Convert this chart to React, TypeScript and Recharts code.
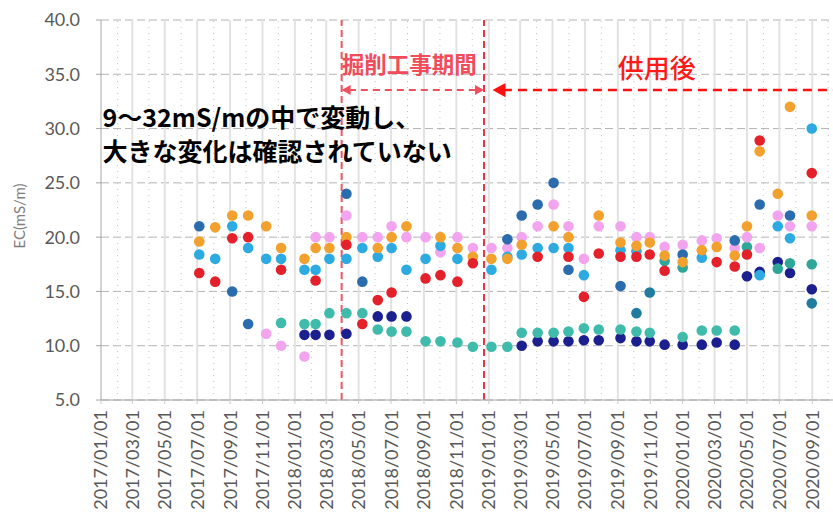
import React from 'react';
import {
  ScatterChart,
  Scatter,
  XAxis,
  YAxis,
  CartesianGrid,
  ReferenceLine,
  ReferenceDot,
  Label,
} from 'recharts';

// sampling dates (one column of dots each)
const sampleDates = [
  '2017-07-05', '2017-08-04', '2017-09-05', '2017-10-05', '2017-11-08',
  '2017-12-06', '2018-01-19', '2018-02-09', '2018-03-07', '2018-04-08',
  '2018-05-08', '2018-06-06', '2018-07-02', '2018-07-30', '2018-09-04',
  '2018-10-02', '2018-11-03', '2018-12-02', '2019-01-06', '2019-02-05',
  '2019-03-04', '2019-04-03', '2019-05-03', '2019-05-31', '2019-06-29',
  '2019-07-27', '2019-09-06', '2019-10-06', '2019-10-31', '2019-11-28',
  '2020-01-01', '2020-02-06', '2020-03-05', '2020-04-08', '2020-05-01',
  '2020-05-25', '2020-06-28', '2020-07-21', '2020-08-31',
];

const tickDates = [
  '2017/01/01', '2017/03/01', '2017/05/01', '2017/07/01', '2017/09/01', '2017/11/01',
  '2018/01/01', '2018/03/01', '2018/05/01', '2018/07/01', '2018/09/01', '2018/11/01',
  '2019/01/01', '2019/03/01', '2019/05/01', '2019/07/01', '2019/09/01', '2019/11/01',
  '2020/01/01', '2020/03/01', '2020/05/01', '2020/07/01', '2020/09/01',
];

const minorDates = [
  '2017/02/01', '2017/04/01', '2017/06/01', '2017/08/01', '2017/10/01', '2017/12/01',
  '2018/02/01', '2018/04/01', '2018/06/01', '2018/08/01', '2018/10/01', '2018/12/01',
  '2019/02/01', '2019/04/01', '2019/06/01', '2019/08/01', '2019/10/01', '2019/12/01',
  '2020/02/01', '2020/04/01', '2020/06/01', '2020/08/01', '2020/10/01',
];

const yTicks = [5, 10, 15, 20, 25, 30, 35, 40];

// EC values (mS/m), aligned with sampleDates
const steelVals = [
  21.0, null, 15.0, 12.0, null, null, null, null, null, 24.0,
  15.9, null, null, null, null, null, null, null, null, 19.8,
  22.0, 23.0, 25.0, 17.0, null, null, 15.5, null, null, null,
  18.4, null, null, 19.7, null, 23.0, null, 22.0, null,
];
const orangeVals = [
  19.6, 20.9, 22.0, 22.0, 21.0, 19.0, 18.0, 19.0, 19.0, 20.0,
  null, 19.0, 20.0, 21.0, null, 20.0, 19.0, 18.2, 18.0, 18.0,
  19.3, null, 21.0, 20.0, null, 22.0, 19.5, 19.2, 19.5, 18.3,
  17.7, 18.8, 19.1, 18.3, 21.0, 27.9, 24.0, 32.0, 22.0,
];
const skyVals = [
  18.4, 18.0, 21.0, 19.0, 18.0, 18.0, 17.0, 17.0, 18.0, 18.0,
  19.0, 18.2, 19.0, 17.0, 18.0, 19.2, 18.0, null, 17.0, 18.2,
  18.4, 19.0, 19.0, 19.0, 16.5, null, 18.8, 18.7, null, null,
  null, 18.1, null, null, null, 16.5, 21.0, 19.9, 30.0,
];
const redVals = [
  16.7, 15.9, 19.9, 20.0, null, 17.0, null, 16.0, null, 19.3,
  12.0, 14.2, 14.9, null, 16.2, 16.5, 15.9, 17.6, null, null,
  null, 18.2, null, 18.2, 14.5, 18.5, 18.2, 18.2, 18.4, 16.9,
  null, null, 17.7, 17.3, 18.4, 28.9, null, null, 25.9,
];
const pinkVals = [
  null, null, null, null, 11.1, 10.0, 9.0, 20.0, 20.0, 22.0,
  20.0, 20.0, 21.0, 20.0, 20.0, 18.6, 20.0, 19.0, 19.0, 19.0,
  20.0, 21.0, 23.0, 21.0, 18.0, 21.0, 21.0, 20.0, 20.0, 19.1,
  19.3, 19.7, 19.9, 19.0, 20.0, 19.0, 22.0, 21.0, 21.0,
];
const tealVals = [
  null, null, null, null, null, 12.1, 12.0, 12.0, 13.0, 13.0,
  13.0, 11.5, 11.3, 11.3, 10.4, 10.4, 10.3, 9.9, 9.9, 9.9,
  11.2, 11.2, 11.2, 11.3, 11.6, 11.5, 11.5, 11.3, 11.2, null,
  10.8, 11.4, 11.4, 11.4, null, null, null, null, null,
];
const navyVals = [
  null, null, null, null, null, null, 11.0, 11.0, 11.0, 11.1,
  null, 12.7, 12.7, 12.7, null, null, null, null, null, null,
  10.0, 10.4, 10.4, 10.4, 10.5, 10.5, 10.7, 10.4, 10.4, 10.1,
  10.1, 10.1, 10.3, 10.1, 16.4, 16.8, 17.7, 16.7, 15.2,
];
const seaVals = [
  null, null, null, null, null, null, null, null, null, null,
  null, null, null, null, null, null, null, null, null, null,
  null, null, null, null, null, null, null, null, null, 17.8,
  17.2, null, null, null, 19.1, null, 17.1, 17.6, 17.5,
];
const deepTealVals = [
  null, null, null, null, null, null, null, null, null, null,
  null, null, null, null, null, null, null, null, null, null,
  null, null, null, null, null, null, null, 13.0, 14.9, null,
  null, null, null, null, null, null, null, null, 13.9,
];

const ts = (s: string) => Date.parse(s.replace(/\//g, '-') + 'T00:00:00Z');

const toPoints = (vals: (number | null)[]) =>
  sampleDates
    .map((d, i) => ({ t: ts(d), v: vals[i] }))
    .filter(p => p.v !== null);

const seriesList = [
  { name: 'navy', color: '#1C1F8E', vals: navyVals },
  { name: 'teal', color: '#3FBBAC', vals: tealVals },
  { name: 'deepTeal', color: '#1F7C9E', vals: deepTealVals },
  { name: 'sea', color: '#2EA79A', vals: seaVals },
  { name: 'pink', color: '#F2A5EE', vals: pinkVals },
  { name: 'steel', color: '#2A6CAD', vals: steelVals },
  { name: 'sky', color: '#2DAAE1', vals: skyVals },
  { name: 'orange', color: '#F2A12E', vals: orangeVals },
  { name: 'red', color: '#E4202A', vals: redVals },
];

const xDomain = [ts('2017-01-01'), ts('2020-10-10')];
const constructStart = ts('2018-03-30');
const constructEnd = ts('2018-12-23');
const serviceArrowTip = ts('2019-01-08');

const axisFont = 'Lato, "Liberation Sans", sans-serif';
const jpFont = '"Noto Sans CJK JP", "Noto Sans", sans-serif';

const XTick = (props: any) => {
  const { x, y, payload } = props;
  const d = new Date(payload.value);
  const label = `${d.getUTCFullYear()}/${String(d.getUTCMonth() + 1).padStart(2, '0')}/01`;
  return (
    <text
      x={x}
      y={y + 4}
      transform={`rotate(-90 ${x} ${y + 4})`}
      textAnchor="end"
      dy="0.36em"
      fontSize={18}
      fontFamily={axisFont}
      fill="#595959"
    >
      {label}
    </text>
  );
};

const dot = (color: string) => (p: any) => <circle cx={p.cx} cy={p.cy} r={5.3} fill={color} />;

// dashed horizontal arrow; heads: 'both' or 'left'
const arrowShape = (color: string, width: number, dash: string, heads: string, head: number) => (p: any) => {
  const { x1, y1, x2 } = p;
  const l = Math.min(x1, x2);
  const r = Math.max(x1, x2);
  const y = y1;
  return (
    <g>
      <line
        x1={l + head * 0.8}
        y1={y}
        x2={heads === 'both' ? r - head * 0.8 : r}
        y2={y}
        stroke={color}
        strokeWidth={width}
        strokeDasharray={dash}
      />
      <polygon points={`${l},${y} ${l + head},${y - head * 0.55} ${l + head},${y + head * 0.55}`} fill={color} />
      {heads === 'both' && (
        <polygon points={`${r},${y} ${r - head},${y - head * 0.55} ${r - head},${y + head * 0.55}`} fill={color} />
      )}
    </g>
  );
};

const textShape = (text: string, opts: any) => (p: any) => (
  <text
    x={p.cx + (opts.dx || 0)}
    y={p.cy}
    dominantBaseline="central"
    textAnchor={opts.anchor || 'start'}
    fontSize={opts.size}
    fontWeight={opts.weight || 400}
    fontFamily={jpFont}
    fill={opts.color}
  >
    {text}
  </text>
);

const App: React.FC = () => {
  return (
    <div
      style={{
        position: 'fixed',
        left: 0,
        top: 0,
        width: 833,
        height: 518,
        background: '#ffffff',
        overflow: 'hidden',
      }}
    >
      <ScatterChart width={833} height={518} margin={{ top: 20, right: 0, bottom: 0, left: 0 }}>
        <CartesianGrid horizontal vertical={false} stroke="#B4B4B4" strokeDasharray="8 4" />
        {minorDates.map(d => (
          <ReferenceLine key={d} x={ts(d)} stroke="#C4C4C4" strokeDasharray="1 5" ifOverflow="hidden" />
        ))}
        {tickDates.slice(1).map(d => (
          <ReferenceLine key={d} x={ts(d)} stroke="#E2E2E2" strokeWidth={2} />
        ))}
        <XAxis
          dataKey="t"
          type="number"
          domain={xDomain}
          ticks={tickDates.map(ts)}
          interval={0}
          allowDataOverflow
          height={118}
          tick={<XTick />}
          tickSize={4}
          axisLine={{ stroke: '#A6A6A6' }}
          tickLine={{ stroke: '#C8C8C8' }}
        />
        <YAxis
          dataKey="v"
          type="number"
          domain={[5, 40]}
          ticks={yTicks}
          interval={0}
          width={101}
          tickFormatter={(v: number) => v.toFixed(1)}
          tick={{ fontSize: 18, fill: '#595959', fontFamily: axisFont }}
          tickSize={5}
          tickMargin={16}
          axisLine={{ stroke: '#A6A6A6' }}
          tickLine={{ stroke: '#A6A6A6' }}
        >
          <Label
            content={() => (
              <text
                x={19}
                y={216}
                transform="rotate(-90 19 216)"
                textAnchor="middle"
                dominantBaseline="central"
                fontSize={15}
                fontFamily={axisFont}
                fill="#7F7F7F"
              >
                EC(mS/m)
              </text>
            )}
          />
        </YAxis>

        {seriesList.map(s => (
          <Scatter
            key={s.name}
            name={s.name}
            data={toPoints(s.vals)}
            shape={dot(s.color)}
            isAnimationActive={false}
          />
        ))}

        <ReferenceLine x={constructStart} stroke="#EE5566" strokeWidth={2} strokeDasharray="7 4" />
        <ReferenceLine x={constructEnd} stroke="#EE3344" strokeWidth={2} strokeDasharray="7 4" />
        <ReferenceLine
          segment={[{ x: constructStart, y: 33.55 }, { x: constructEnd, y: 33.55 }]}
          shape={arrowShape('#EE5060', 2, '7 5', 'both', 9)}
        />
        <ReferenceLine
          segment={[{ x: serviceArrowTip, y: 33.55 }, { x: xDomain[1], y: 33.55 }]}
          shape={arrowShape('#FF1010', 2.5, '9 6', 'left', 13)}
        />

        <ReferenceDot
          x={constructStart}
          y={36.0}
          r={0}
          shape={textShape('掘削工事期間', { size: 22.5, weight: 700, color: '#F04C5C', dx: 0 })}
        />
        <ReferenceDot
          x={ts('2019-11-13')}
          y={35.75}
          r={0}
          shape={textShape('供用後', { size: 26, weight: 500, color: '#FF1A1A', anchor: 'middle' })}
        />
        <ReferenceDot
          x={ts('2017-01-04')}
          y={31.15}
          r={0}
          shape={textShape('9～32mS/mの中で変動し、', { size: 25, weight: 700, color: '#000000' })}
        />
        <ReferenceDot
          x={ts('2017-01-04')}
          y={28.0}
          r={0}
          shape={textShape('大きな変化は確認されていない', { size: 25, weight: 700, color: '#000000' })}
        />
      </ScatterChart>
    </div>
  );
};

export default App;
